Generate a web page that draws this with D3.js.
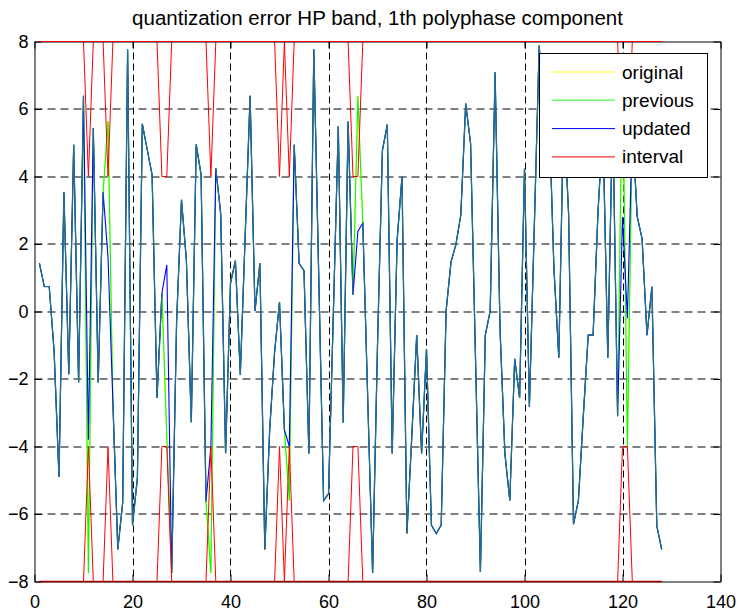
<!DOCTYPE html>
<html>
<head>
<meta charset="utf-8">
<script src="https://cdn.jsdelivr.net/npm/d3@7"></script>
<style>
  body { margin: 0; background: #fff; }
  text { font-family: "Liberation Sans", Arial, Helvetica, sans-serif; fill: #000; }
</style>
</head>
<body>
<div id="vis"></div>
<script>
// sample index 1..128
var updated = [1.43, 0.74, 0.74, -1.17, -4.9, 3.53, -1.86, 4.94, -2.1, 6.39,
  -3.8, 5.44, -2.1, 3.53, 1.62, -2.7, -7.05, -5.66, 7.76, -6.33,
  -4.93, 5.56, 4.8, 4.05, -2.56, 0.54, 1.38, -7.75, -0.3, 3.31,
  1.51, -3.28, 4.95, 4.05, -5.63, -4.0, 4.24, 2.9, -4.2, 0.84,
  1.51, -1.87, 2.26, 6.39, 0.02, 1.43, -7.05, -3.5, -1.2, 0.28,
  -3.5, -4.0, 4.94, 1.43, 1.21, -4.21, 7.77, 1.1, -5.6, -5.4,
  0.0, 5.49, -3.29, 5.63, 0.5, 2.38, 2.62, -2.55, -7.75, -1.0,
  4.77, 5.54, -4.21, 2.1, 4.0, -6.58, -3.7, -0.7, -4.21, -1.11,
  -6.33, -6.58, -6.33, 0.02, 1.47, 1.98, 2.86, 6.16, 4.97, -1.38,
  -7.72, -0.7, 0.02, 7.09, -0.5, -4.21, -5.6, -1.4, -2.56, 4.23,
  -2.82, 2.5, 7.88, 5.5, 6.0, 1.3, -1.37, 6.0, 2.9, -6.3,
  -5.6, -3.1, -0.7, -0.7, 2.95, 5.5, -1.37, 6.0, -3.1, 2.8,
  -0.2, 5.5, 2.82, 2.15, -0.7, 0.73, -6.35, -7.05];

var previous = [1.43, 0.74, 0.74, -1.17, -4.9, 3.53, -1.86, 4.94, -2.1, 6.39,
  -7.75, 5.44, -2.1, 3.53, 5.64, -2.7, -7.05, -5.66, 7.76, -6.33,
  -4.93, 5.56, 4.8, 4.05, -2.56, 0.54, -3.7, -7.75, -0.3, 3.31,
  1.51, -3.28, 4.95, 4.05, -5.63, -7.75, 4.24, 2.9, -4.2, 0.84,
  1.51, -1.87, 2.26, 6.39, 0.02, 1.43, -7.05, -3.5, -1.2, 0.28,
  -3.5, -5.6, 4.94, 1.43, 1.21, -4.21, 7.77, 1.1, -5.6, -5.4,
  0.0, 5.49, -3.29, 5.63, 0.5, 6.38, 2.62, -2.55, -7.75, -1.0,
  4.77, 5.54, -4.21, 2.1, 4.0, -6.58, -3.7, -0.7, -4.21, -1.11,
  -6.33, -6.58, -6.33, 0.02, 1.47, 1.98, 2.86, 6.16, 4.97, -1.38,
  -7.72, -0.7, 0.02, 7.09, -0.5, -4.21, -5.6, -1.4, -2.56, 4.23,
  -2.82, 2.5, 7.88, 5.5, 6.0, 1.3, -1.37, 6.0, 2.9, -6.3,
  -5.6, -3.1, -0.7, -0.7, 2.95, 5.5, -1.37, 6.0, -3.1, 7.5,
  -4.0, 5.5, 2.82, 2.15, -0.7, 0.73, -6.35, -7.05];

// yellow never shows, it sits under "previous"
var original = [1.43, 0.74, 0.74, -1.17, -4.9, 3.53, -1.86, 4.94, -2.1, 6.39,
  -7.75, 5.44, -2.1, 3.53, 5.64, -2.7, -7.05, -5.66, 7.76, -6.33,
  -4.93, 5.56, 4.8, 4.05, -2.56, 0.54, -3.7, -7.75, -0.3, 3.31,
  1.51, -3.28, 4.95, 4.05, -5.63, -7.75, 4.24, 2.9, -4.2, 0.84,
  1.51, -1.87, 2.26, 6.39, 0.02, 1.43, -7.05, -3.5, -1.2, 0.28,
  -3.5, -5.6, 4.94, 1.43, 1.21, -4.21, 7.77, 1.1, -5.6, -5.4,
  0.0, 5.49, -3.29, 5.63, 0.5, 6.38, 2.62, -2.55, -7.75, -1.0,
  4.77, 5.54, -4.21, 2.1, 4.0, -6.58, -3.7, -0.7, -4.21, -1.11,
  -6.33, -6.58, -6.33, 0.02, 1.47, 1.98, 2.86, 6.16, 4.97, -1.38,
  -7.72, -0.7, 0.02, 7.09, -0.5, -4.21, -5.6, -1.4, -2.56, 4.23,
  -2.82, 2.5, 7.88, 5.5, 6.0, 1.3, -1.37, 6.0, 2.9, -6.3,
  -5.6, -3.1, -0.7, -0.7, 2.95, 5.5, -1.37, 6.0, -3.1, 7.5,
  -4.0, 5.5, 2.82, 2.15, -0.7, 0.73, -6.35, -7.05];

var intervalHi = [8, 8, 8, 8, 8, 8, 8, 8, 8, 8,
  4, 8, 8, 8, 4, 8, 8, 8, 8, 8,
  8, 8, 8, 8, 8, 4, 4, 8, 8, 8,
  8, 8, 8, 8, 8, 4, 8, 8, 8, 8,
  8, 8, 8, 8, 8, 8, 8, 8, 8, 4,
  8, 4, 8, 8, 8, 8, 8, 8, 8, 8,
  8, 8, 8, 8, 4, 4, 8, 8, 8, 8,
  8, 8, 8, 8, 8, 8, 8, 8, 8, 8,
  8, 8, 8, 8, 8, 8, 8, 8, 8, 8,
  8, 8, 8, 8, 8, 8, 8, 8, 8, 8,
  8, 8, 8, 8, 8, 8, 8, 8, 8, 8,
  8, 8, 8, 8, 8, 8, 8, 8, 8, 4,
  4, 8, 8, 8, 8, 8, 8, 8];

var intervalLo = [-8, -8, -8, -8, -8, -8, -8, -8, -8, -8,
  -4, -8, -8, -8, -4, -8, -8, -8, -8, -8,
  -8, -8, -8, -8, -8, -4, -4, -8, -8, -8,
  -8, -8, -8, -8, -8, -4, -8, -8, -8, -8,
  -8, -8, -8, -8, -8, -8, -8, -8, -8, -4,
  -8, -4, -8, -8, -8, -8, -8, -8, -8, -8,
  -8, -8, -8, -8, -4, -4, -8, -8, -8, -8,
  -8, -8, -8, -8, -8, -8, -8, -8, -8, -8,
  -8, -8, -8, -8, -8, -8, -8, -8, -8, -8,
  -8, -8, -8, -8, -8, -8, -8, -8, -8, -8,
  -8, -8, -8, -8, -8, -8, -8, -8, -8, -8,
  -8, -8, -8, -8, -8, -8, -8, -8, -8, -4,
  -4, -8, -8, -8, -8, -8, -8, -8];

var xTicks = [0, 20, 40, 60, 80, 100, 120, 140];
var yTicks = [-8, -6, -4, -2, 0, 2, 4, 6, 8];
var legendNames = ["original", "previous", "updated", "interval"];
var titleText = "quantization error HP band, 1th polyphase component";

function init() {

  var width = 743, height = 615;
  var left = 34.5, right = 720.5, top = 41.5, bottom = 581.5;

  var svg = d3.select("#vis")
    .append("svg")
    .attr("width", width)
    .attr("height", height);

  svg.append("rect")
    .attr("width", width)
    .attr("height", height)
    .style("fill", "#fff");

  var xScale = d3.scaleLinear().domain([0, 140]).range([left, right]);
  var yScale = d3.scaleLinear().domain([-8, 8]).range([bottom, top]);

  // grid: vertical only every 20 (inner), horizontal every 2 (inner)
  svg.append("g").selectAll("line")
    .data(xTicks.slice(1, -1))
    .enter().append("line")
      .attr("x1", function(d) { return Math.round(xScale(d)) + 0.5; })
      .attr("x2", function(d) { return Math.round(xScale(d)) + 0.5; })
      .attr("y1", top)
      .attr("y2", bottom)
      .style("stroke", "#000")
      .style("stroke-dasharray", "7,4");

  svg.append("g").selectAll("line")
    .data(yTicks.slice(1, -1))
    .enter().append("line")
      .attr("x1", left)
      .attr("x2", right)
      .attr("y1", function(d) { return Math.round(yScale(d)); })
      .attr("y2", function(d) { return Math.round(yScale(d)); })
      .style("stroke", "#000")
      .style("stroke-dasharray", "8,5");

  var line = function(arr) {
    return d3.line()
      .x(function(d, i) { return xScale(i + 1); })
      .y(function(d) { return yScale(d); })(arr);
  };

  svg.append("path").attr("d", line(original))
    .style("fill", "none").style("stroke", "#ffff00").style("stroke-width", 1);
  svg.append("path").attr("d", line(previous))
    .style("fill", "none").style("stroke", "#00ff00").style("stroke-width", 1.1);
  svg.append("path").attr("d", line(updated))
    .style("fill", "none").style("stroke", "#0000ff").style("stroke-width", 1.1);

  // where blue lies on green the picture shows a teal blend
  var shared = d3.line()
    .defined(function(d, i) { return previous[i] === updated[i]; })
    .x(function(d, i) { return xScale(i + 1); })
    .y(function(d) { return yScale(d); });
  svg.append("path").attr("d", shared(updated))
    .style("fill", "none").style("stroke", "#2a6a98").style("stroke-width", 1.3);

  svg.append("path").attr("d", line(intervalHi))
    .style("fill", "none").style("stroke", "#ff0000").style("stroke-width", 1);
  svg.append("path").attr("d", line(intervalLo))
    .style("fill", "none").style("stroke", "#ff0000").style("stroke-width", 1);

  // axes, ticks pointing inwards on all four sides
  var xAxis = d3.axisBottom(xScale).tickValues(xTicks).tickSizeInner(-7).tickSizeOuter(0).tickPadding(14);
  var yAxis = d3.axisLeft(yScale).tickValues(yTicks).tickSizeInner(-7).tickSizeOuter(0).tickPadding(6);

  var gx = svg.append("g").attr("transform", "translate(0," + bottom + ")").call(xAxis);
  var gy = svg.append("g").attr("transform", "translate(" + left + ",0)").call(yAxis);
  svg.append("g").attr("transform", "translate(0," + top + ")")
    .call(d3.axisTop(xScale).tickValues(xTicks).tickSizeInner(-7).tickSizeOuter(0).tickFormat(""));
  svg.append("g").attr("transform", "translate(" + right + ",0)")
    .call(d3.axisRight(yScale).tickValues(yTicks).tickSizeInner(-7).tickSizeOuter(0).tickFormat(""));

  svg.selectAll(".domain").style("stroke", "#000");
  svg.selectAll(".tick line").style("stroke", "#000");
  gx.selectAll("text").style("font-size", "18px").style("font-family", "Liberation Sans, Arial, sans-serif");
  gy.selectAll("text").style("font-size", "18px").style("font-family", "Liberation Sans, Arial, sans-serif");

  // the red bound lines lying on the box: bright on top, darker on the bottom edge
  svg.append("line")
    .attr("x1", xScale(1)).attr("x2", xScale(128))
    .attr("y1", yScale(8)).attr("y2", yScale(8))
    .style("stroke", "#ff0000");
  svg.append("line")
    .attr("x1", xScale(1)).attr("x2", xScale(128))
    .attr("y1", yScale(-8)).attr("y2", yScale(-8))
    .style("stroke", "#a00000")
    .style("stroke-width", 1.5);

  svg.append("text")
    .attr("x", (left + right) / 2)
    .attr("y", 25)
    .attr("text-anchor", "middle")
    .style("font-size", "20.5px")
    .text(titleText);

  // legend
  var colors = ["#ffff66", "#66ff66", "#0000ff", "#ff0000"];
  var lg = svg.append("g");
  lg.append("rect")
    .attr("x", 539.5).attr("y", 53.5)
    .attr("width", 168).attr("height", 124)
    .style("fill", "#fff").style("stroke", "#000");

  var rows = lg.selectAll("g.row")
    .data(legendNames)
    .enter().append("g")
    .attr("class", "row")
    .attr("transform", function(d, i) { return "translate(0," + (72 + i * 28.3) + ")"; });

  rows.append("line")
    .attr("x1", 552).attr("x2", 615)
    .attr("y1", 0).attr("y2", 0)
    .style("stroke", function(d, i) { return colors[i]; })
    .style("stroke-width", function(d, i) { return i < 2 ? 1.6 : 1; });

  rows.append("text")
    .attr("x", 622)
    .attr("y", 6.5)
    .style("font-size", "19px")
    .text(function(d) { return d; });
}

window.onload = init;
</script>
</body>
</html>
